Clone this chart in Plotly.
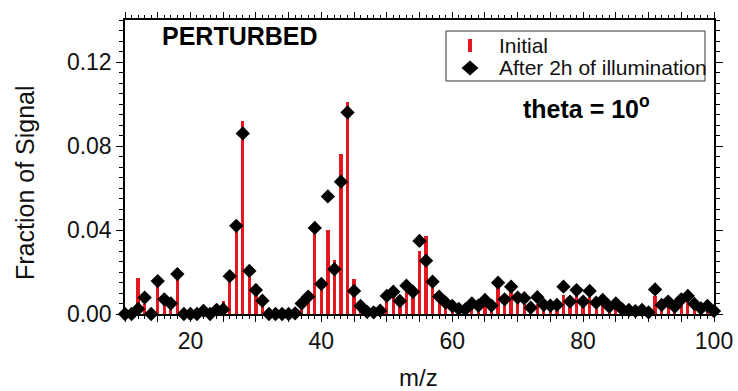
import plotly.graph_objects as go

# m/z channels 10..100
mz = list(range(10, 101))

# Fraction of signal, initial spectrum
initial = [
    0.000, 0.000, 0.017, 0.0046, 0.000, 0.0146, 0.005, 0.0035, 0.0197, 0.000,   # 10-19
    0.000, 0.000, 0.001, 0.000, 0.002, 0.006, 0.019, 0.045, 0.092, 0.019,       # 20-29
    0.0143, 0.005, 0.000, 0.000, 0.000, 0.000, 0.000, 0.0035, 0.008, 0.043,     # 30-39
    0.0165, 0.040, 0.0257, 0.076, 0.1008, 0.0165, 0.002, 0.000, 0.000, 0.001,   # 40-49
    0.008, 0.009, 0.006, 0.011, 0.010, 0.030, 0.0373, 0.0127, 0.007, 0.004,     # 50-59
    0.003, 0.002, 0.001, 0.003, 0.004, 0.005, 0.003, 0.013, 0.007, 0.011,       # 60-69
    0.006, 0.006, 0.002, 0.005, 0.004, 0.003, 0.004, 0.009, 0.004, 0.0098,      # 70-79
    0.004, 0.008, 0.004, 0.006, 0.003, 0.004, 0.001, 0.001, 0.001, 0.001,       # 80-89
    0.000, 0.0086, 0.003, 0.005, 0.003, 0.005, 0.006, 0.004, 0.002, 0.003,      # 90-99
    0.000,                                                                      # 100
]

# Fraction of signal after 2h of illumination
after = [
    0.000, 0.000, 0.0024, 0.0078, 0.000, 0.0157, 0.007, 0.005, 0.019, 0.000,    # 10-19
    0.000, 0.000, 0.0015, 0.000, 0.002, 0.0022, 0.018, 0.042, 0.086, 0.0205,    # 20-29
    0.0114, 0.0063, 0.000, 0.000, 0.000, 0.000, 0.0003, 0.005, 0.0083, 0.041,   # 30-39
    0.0143, 0.056, 0.0213, 0.063, 0.096, 0.011, 0.0038, 0.001, 0.0008, 0.0016,  # 40-49
    0.0086, 0.0106, 0.0062, 0.0135, 0.0106, 0.0348, 0.0254, 0.0154, 0.0083, 0.0054,  # 50-59
    0.0038, 0.0024, 0.0022, 0.005, 0.004, 0.0067, 0.004, 0.0149, 0.007, 0.013,  # 60-69
    0.0078, 0.0075, 0.003, 0.008, 0.0043, 0.004, 0.0043, 0.013, 0.0059, 0.0114,  # 70-79
    0.0059, 0.011, 0.0054, 0.0067, 0.0035, 0.005, 0.0022, 0.0019, 0.0014, 0.0019,  # 80-89
    0.0008, 0.0117, 0.0043, 0.0059, 0.0035, 0.007, 0.0086, 0.0048, 0.0027, 0.0038,  # 90-99
    0.0014,                                                                     # 100
]

series_names = ["Initial", "After 2h of illumination"]

x_tickvals = list(range(10, 101, 5))
x_ticktext = [str(v) if v % 20 == 0 else "" for v in x_tickvals]
y_tickvals = [0.0, 0.04, 0.08, 0.12]

RED = "#e3171d"
FONT = "Liberation Sans, Arial, sans-serif"
W, H = 738, 391
ML, MR, MT, MB = 125, 24, 20, 77
PW, PH = W - ML - MR, H - MT - MB


def px(x):
    """pixel column -> paper x"""
    return (x - ML) / PW


def py(y):
    """pixel row (from top) -> paper y"""
    return (H - MB - y) / PH


fig = go.Figure()

fig.add_trace(go.Bar(
    x=mz, y=initial, width=0.5,
    marker=dict(color=RED, line=dict(width=0)),
    showlegend=False, name=series_names[0],
))

fig.add_trace(go.Scatter(
    x=mz, y=after, mode="markers", name=series_names[1], showlegend=False,
    marker=dict(symbol="diamond", size=11, color="black", line=dict(width=0)),
    cliponaxis=False,
))

axis_common = dict(
    showline=True, linecolor="black", linewidth=1.5, mirror="allticks",
    ticks="outside", tickcolor="black", tickwidth=1.2,
    showgrid=False, zeroline=False, automargin=False,
    tickfont=dict(family=FONT, size=23, color="#111"),
)

fig.update_xaxes(
    **axis_common,
    range=[10, 100], tickmode="array", tickvals=x_tickvals, ticktext=x_ticktext,
    ticklen=6,
    minor=dict(dtick=1, tick0=0, ticks="outside", ticklen=3, tickcolor="black", tickwidth=1),
)
fig.update_yaxes(
    **axis_common,
    range=[0, 0.14], tickmode="array", tickvals=y_tickvals, tickformat=".2f",
    ticklen=7,
    minor=dict(dtick=0.005, tick0=0, ticks="outside", ticklen=4, tickcolor="black", tickwidth=1),
)

# axis titles
fig.add_annotation(
    text="Fraction of Signal", xref="paper", yref="paper", x=px(25), y=py(183),
    xanchor="center", yanchor="middle", textangle=-90, showarrow=False,
    font=dict(family=FONT, size=25, color="#111"),
)
fig.add_annotation(
    text="m/z", xref="paper", yref="paper", x=px(418), y=py(377),
    xanchor="center", yanchor="middle", showarrow=False,
    font=dict(family=FONT, size=24, color="#111"),
)

fig.add_annotation(
    text="<b>PERTURBED</b>", xref="paper", yref="paper", x=px(160), y=py(36),
    xanchor="left", yanchor="middle", showarrow=False,
    font=dict(family=FONT, size=25, color="black"),
)
fig.add_annotation(
    text="<b>theta = 10<sup>o</sup></b>", xref="paper", yref="paper", x=px(521), y=py(107),
    xanchor="left", yanchor="middle", showarrow=False,
    font=dict(family=FONT, size=25, color="black"),
)

# legend box
fig.add_shape(type="rect", xref="paper", yref="paper",
              x0=px(446), x1=px(705), y0=py(81), y1=py(31),
              line=dict(color="#333", width=1), fillcolor="white", layer="above")
# swatch: red stroke for the bars
fig.add_shape(type="rect", xref="paper", yref="paper",
              x0=px(468), x1=px(472), y0=py(52), y1=py(39),
              line=dict(width=0), fillcolor=RED, layer="above")
# swatch: black diamond for the markers
cx, cy, hx, hy = 470, 68, 8.5, 7.5
fig.add_shape(type="path", xref="paper", yref="paper",
              path=(f"M {px(cx - hx)},{py(cy)} L {px(cx)},{py(cy - hy)} "
                    f"L {px(cx + hx)},{py(cy)} L {px(cx)},{py(cy + hy)} Z"),
              line=dict(width=0), fillcolor="black", layer="above")
for name, row_y in zip(series_names, [45, 67.5]):
    fig.add_annotation(
        text=name, xref="paper", yref="paper", x=px(497), y=py(row_y),
        xanchor="left", yanchor="middle", showarrow=False,
        font=dict(family=FONT, size=21, color="#111"),
    )

fig.update_layout(
    width=W, height=H,
    margin=dict(l=ML, r=MR, t=MT, b=MB, autoexpand=False),
    plot_bgcolor="white", paper_bgcolor="white",
    bargap=0, showlegend=False,
)

fig.write_html("out.html")
